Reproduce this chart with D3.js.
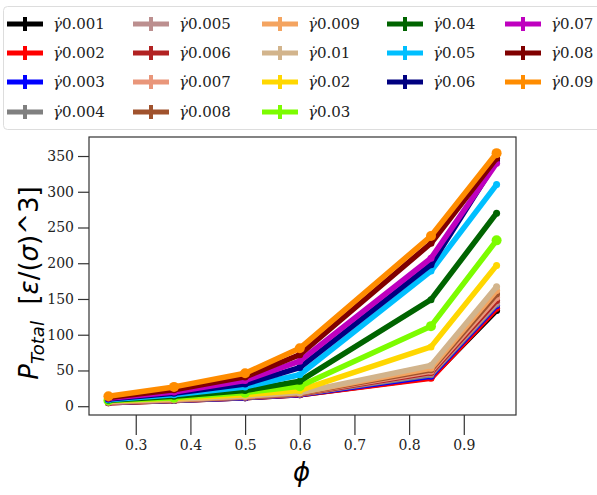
<!DOCTYPE html>
<html>
<head>
<meta charset="utf-8">
<script src="https://cdn.jsdelivr.net/npm/d3@7"></script>
<style>
  body { margin: 0; background: #fff; }
  svg { display: block; }
</style>
</head>
<body>
<svg id="chart" width="597" height="495"></svg>
<script>
// packing fraction values (x)
const phi = [0.25, 0.37, 0.5, 0.6, 0.84, 0.96];
// shear rates, one series each
const rates = ['0.001', '0.002', '0.003', '0.004', '0.005', '0.006', '0.007', '0.008', '0.009',
  '0.01', '0.02', '0.03', '0.04', '0.05', '0.06', '0.07', '0.08', '0.09'];
// P_Total per rate (same order as rates)
const p001 = [5, 8, 12, 16, 40, 134];
const p002 = [5, 8, 12, 16, 39, 137];
const p003 = [5.5, 8.5, 12, 16.5, 42, 141];
const p004 = [5.5, 8.5, 12.5, 17, 44, 143];
const p005 = [6, 9, 13, 17, 46, 145];
const p006 = [6, 9, 13, 17.5, 47, 148];
const p007 = [6, 9, 13.5, 18, 49, 152];
const p008 = [6.5, 9.5, 14, 18.5, 51, 157];
const p009 = [6.5, 9.5, 14, 19, 53, 162];
const p01 = [7, 10, 14.5, 19, 57, 167];
const p02 = [7.5, 11, 16, 22, 83, 197];
const p03 = [8, 12, 19, 28, 112, 232];
const p04 = [8.5, 14, 22, 35, 149, 270];
const p05 = [9, 16, 27, 44, 189, 310];
const p06 = [10, 18, 31, 54, 198, 343];
const p07 = [11, 20, 36, 63, 207, 340];
const p08 = [12, 23, 41, 72, 228, 347];
const p09 = [14, 27, 46, 81, 238, 354];
const values = [p001, p002, p003, p004, p005, p006, p007, p008, p009,
  p01, p02, p03, p04, p05, p06, p07, p08, p09];
const yTicks = [0, 50, 100, 150, 200, 250, 300, 350];
const xTicks = [0.3, 0.4, 0.5, 0.6, 0.7, 0.8, 0.9];

const colors = ['#000000', '#ff0000', '#0000ff', '#808080', '#bc8f8f', '#b22222', '#e9967a',
  '#a0522d', '#f4a460', '#d2b48c', '#ffd700', '#7cfc00', '#006400', '#00bfff', '#000080',
  '#bf00bf', '#800000', '#ff8c00'];

const svg = d3.select('#chart');
const mLeft = 89, mRight = 516, mTop = 137, mBottom = 415;

const x = d3.scaleLinear().domain([0.2145, 0.9955]).range([mLeft, mRight]);
const y = d3.scaleLinear().domain([-12.3, 376.6]).range([mBottom, mTop]);

const serif = 'DejaVu Serif, serif';

// axes
const xAxis = svg.append('g')
  .attr('transform', `translate(0,${mBottom})`)
  .call(d3.axisBottom(x).tickValues(xTicks).tickFormat(d3.format('.1f')).tickSize(20).tickPadding(5));
const yAxis = svg.append('g')
  .attr('transform', `translate(${mLeft},0)`)
  .call(d3.axisLeft(y).tickValues(yTicks).tickSize(11).tickPadding(4));
[xAxis, yAxis].forEach(function(g) {
  g.select('.domain').remove();
  g.selectAll('.tick line').attr('stroke', '#333').attr('stroke-width', 1.2);
  g.selectAll('.tick text').attr('fill', '#222').style('font-family', serif).style('font-size', '14px');
});

// lines
const plot = svg.append('g');
const line = d3.line()
  .x(function(d, i) { return x(phi[i]); })
  .y(function(d) { return y(d); });

values.forEach(function(vals, k) {
  plot.append('path')
    .datum(vals)
    .attr('fill', 'none')
    .attr('stroke', colors[k])
    .attr('stroke-width', 5.5)
    .attr('stroke-linejoin', 'round')
    .attr('d', line);
  plot.selectAll(null)
    .data(vals)
    .enter()
    .append('circle')
    .attr('cx', function(d, i) { return x(phi[i]); })
    .attr('cy', function(d) { return y(d); })
    .attr('r', k === 17 || k === 11 ? 5 : 3.5)
    .attr('fill', colors[k]);
});

// frame
svg.append('rect')
  .attr('x', mLeft).attr('y', mTop)
  .attr('width', mRight - mLeft).attr('height', mBottom - mTop)
  .attr('fill', 'none').attr('stroke', '#333').attr('stroke-width', 1.2);

// axis labels
svg.append('text')
  .attr('x', (mLeft + mRight) / 2 - 1).attr('y', 481)
  .attr('text-anchor', 'middle')
  .style('font-family', 'DejaVu Sans, sans-serif').style('font-size', '26px').style('font-style', 'italic')
  .text('ϕ');

const yl = svg.append('text')
  .attr('transform', 'translate(38,283) rotate(-90)')
  .attr('text-anchor', 'middle')
  .style('font-family', 'DejaVu Sans, sans-serif').style('font-size', '26px').attr('fill', '#000');
yl.append('tspan').style('font-style', 'italic').text('P');
yl.append('tspan').style('font-style', 'italic').style('font-size', '18px').attr('dy', 6).text('Total');
yl.append('tspan').attr('dy', -6).text('\u00a0\u00a0[');
yl.append('tspan').style('font-style', 'italic').text('ε');
yl.append('tspan').text('/(');
yl.append('tspan').style('font-style', 'italic').text('σ');
yl.append('tspan').text(')^3]');

// legend
const legend = svg.append('g');
legend.append('rect')
  .attr('x', 3.5).attr('y', 6.5).attr('width', 620).attr('height', 123)
  .attr('rx', 4).attr('fill', '#fff').attr('stroke', '#ddd').attr('stroke-width', 1);

const colX = [7, 133, 262, 387, 505];
const rowY = [24, 53, 82, 112];
const perCol = [4, 4, 4, 3, 3];
let idx = 0;
perCol.forEach(function(n, c) {
  for (let r = 0; r < n; r++, idx++) {
    const gx = colX[c], gy = rowY[r];
    const item = legend.append('g').attr('transform', `translate(${gx},${gy})`);
    item.append('line').attr('x1', 0).attr('x2', 36).attr('y1', 0).attr('y2', 0)
      .attr('stroke', colors[idx]).attr('stroke-width', 5);
    item.append('line').attr('x1', 18).attr('x2', 18).attr('y1', -7).attr('y2', 7)
      .attr('stroke', colors[idx]).attr('stroke-width', 4);
    const t = item.append('text').attr('x', 46).attr('y', 5)
      .style('font-family', serif).style('font-size', '15px').attr('fill', '#222');
    t.append('tspan').style('font-style', 'italic').text('γ\u0307');
    t.append('tspan').text(rates[idx]);
  }
});
</script>
</body>
</html>
